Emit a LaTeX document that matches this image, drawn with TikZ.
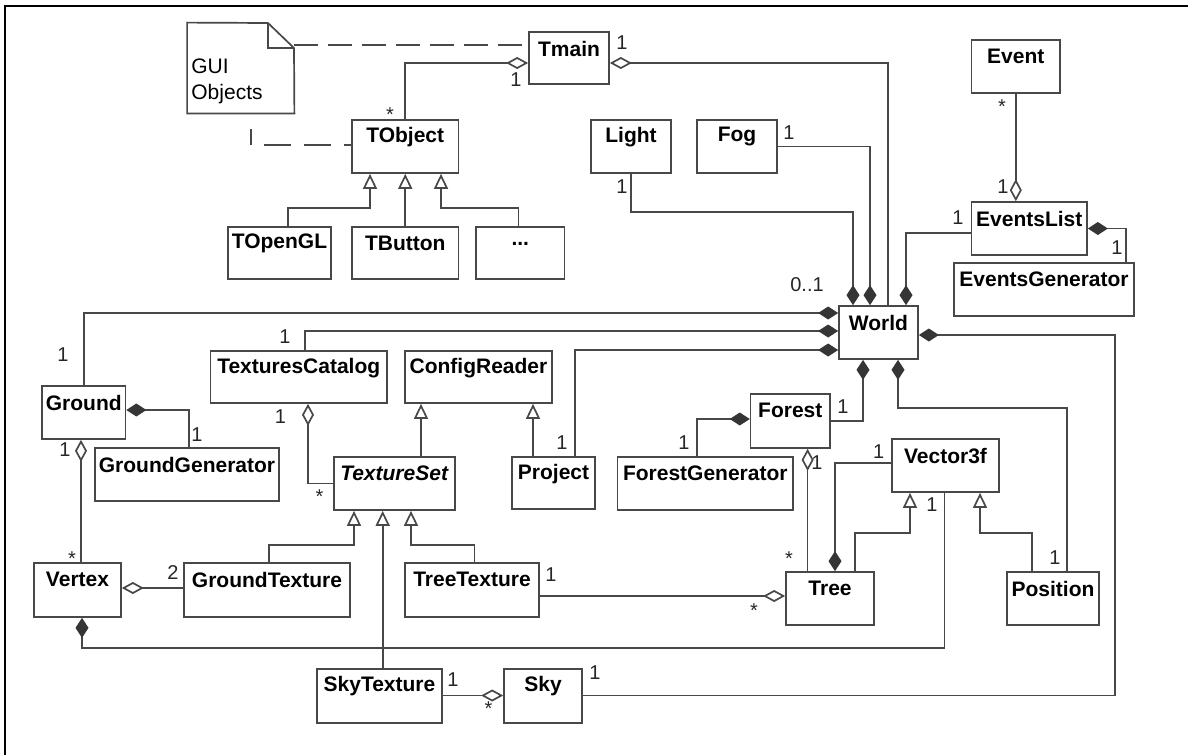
\documentclass[tikz,border=0pt]{standalone}
\usepackage{fontspec}
\setmainfont{Liberation Sans}
\usetikzlibrary{arrows.meta,fit,calc}
\definecolor{ln}{HTML}{484848}
\definecolor{dm}{HTML}{353535}
\tikzset{
  cls/.style={draw=ln, line width=0.85pt, fill=white, inner sep=0pt, rectangle},
  cname/.style={font=\fontsize{10.5}{12}\selectfont\bfseries, text=black, inner sep=0pt},
  mult/.style={font=\fontsize{10}{12}\selectfont, text=black!85, inner sep=0pt},
  conn/.style={draw=ln, line width=0.85pt},
  dashconn/.style={conn, dash pattern=on 12pt off 5pt},
  tickdash/.style={conn, dash pattern=on 8pt off 6.5pt on 13.5pt off 6.5pt on 13.5pt off 6.5pt on 13.5pt off 6.5pt},
  fdS/.style={arrows={Diamond[length=10pt,width=6.5pt,color=dm]-}},
  fdE/.style={arrows={-Diamond[length=10pt,width=6.5pt,color=dm]}},
  odS/.style={arrows={Diamond[open,length=11pt,width=6pt]-}},
  odE/.style={arrows={-Diamond[open,length=11pt,width=6pt]}},
  inhE/.style={arrows={-Triangle[open,length=7.5pt,width=7pt]}},
}
\newcommand\umlbox[6]{%
  \node[cls, fit={(#2,#3) (#4,#5)}] (#1) {};
  \node[cname] (#1-t) at ($(#1.north)+(0,17.5)$) {#6};
}
\begin{document}
\begin{tikzpicture}[x=0.5pt,y=-0.5pt]
\useasboundingbox (0,0) rectangle (1188,755);
% frame (top and left only)
\draw[line width=1pt,black] (5,755) -- (5,6) -- (1188,6);

% note
\node[inner sep=0pt, fit={(187.5,23) (294,113)}] (note) {};
\draw[conn,fill=white] (note.south west) -- (note.north west) -- (268,23) -- (294,48) -- (note.south east) -- cycle;
\draw[conn] (268,23) -- (268,48) -- (294,48);
\node[anchor=west, align=left, inner sep=0pt, font=\fontsize{10.5}{13}\selectfont] (notetext) at (191,81) {GUI\\Objects};

% classes
\umlbox{tmain}{529}{32}{609}{84}{Tmain}
\umlbox{tobject}{352}{120}{458.5}{173}{TObject}
\umlbox{topengl}{228}{227}{331}{279}{TOpenGL}
\umlbox{tbutton}{352}{227}{458.5}{279}{TButton}
\umlbox{dots}{476}{227}{564.5}{279}{...}
\umlbox{light}{591}{120}{671}{173}{Light}
\umlbox{fog}{697}{120}{777}{173}{Fog}
\umlbox{event}{971.6}{40}{1060}{93}{Event}
\umlbox{eventslist}{971.6}{202}{1087}{255}{EventsList}
\umlbox{eventsgen}{954}{263}{1134}{316}{EventsGenerator}
\umlbox{world}{839}{306}{918}{359}{World}
\umlbox{ground}{42}{386}{125.5}{439}{Ground}
\umlbox{groundgen}{95}{448}{279}{501}{GroundGenerator}
\umlbox{texcat}{210.5}{351}{387}{403}{TexturesCatalog}
\umlbox{config}{405}{351}{552}{403}{ConfigReader}
\umlbox{texset}{334}{457}{455}{510}{\textit{TextureSet}}
\umlbox{project}{512}{457}{595}{509}{Project}
\umlbox{forest}{750.6}{394}{830}{448}{Forest}
\umlbox{forestgen}{617.6}{457}{793}{510}{ForestGenerator}
\umlbox{vector}{892}{439}{999}{492}{Vector3f}
\umlbox{vertex}{34}{563}{121}{617}{Vertex}
\umlbox{groundtex}{184}{563}{350}{617}{GroundTexture}
\umlbox{treetex}{405}{563}{539}{617}{TreeTexture}
\umlbox{tree}{786}{572}{874}{625}{Tree}
\umlbox{position}{1007}{572}{1099}{625}{Position}
\umlbox{skytex}{317}{669}{442}{723}{SkyTexture}
\umlbox{sky}{504}{669}{582}{723}{Sky}

% dashed note links
\coordinate (tick) at (251,129);
\draw[dashconn] (note.east |- 0,45) -- (tmain.west |- 0,45);
\draw[tickdash] (tick) -- (251,145) -- (tobject.west |- 0,145);

% connectors
\draw[conn,odS] (tmain.west |- 0,63) -| (tobject.north);
\draw[conn,inhE] (topengl.north -| 288,0) |- (370,208) -- (tobject.south -| 370,0);
\draw[conn,inhE] (tbutton.north) -- (tobject.south);
\draw[conn,inhE] (dots.north -| 518.5,0) |- (441,208) -- (tobject.south -| 441,0);
\draw[conn,odS] (tmain.east |- 0,63) -| (world.north -| 888,0);
\draw[conn,fdE] (light.south) |- (853,212) -- (world.north -| 853,0);
\draw[conn,fdE] (fog.east) -| (world.north -| 870,0);
\draw[conn,fdE] (eventslist.west |- 0,233) -| (world.north -| 906,0);
\draw[conn,odE] (event.south) -- (eventslist.north -| event.south);
\draw[conn,fdS] (eventslist.east) -| (eventsgen.north -| 1126,0);
\draw[conn,fdE] (ground.north) |- (world.west |- 0,313);
\draw[conn,fdE] (texcat.north -| 305,0) |- (world.west |- 0,331);
\draw[conn,fdE] (project.north -| 575,0) |- (world.west |- 0,350);
\draw[conn,fdS] (world.east |- 0,335) -| (1115,695.5) -- (sky.east |- 0,695.5);
\draw[conn,fdS] (world.south -| 863,0) |- (forest.east);
\draw[conn,fdS] (world.south -| 898,0) |- (1067,408) -- (position.north -| 1067,0);
\draw[conn,fdS] (forest.west |- 0,419) -| (forestgen.north -| 697,0);
\draw[conn,odS] (forest.south -| 807.6,0) -- (tree.north -| 807.6,0);
\draw[conn,fdE] (vector.west |- 0,463) -| (tree.north -| 835,0);
\draw[conn,inhE] (tree.north -| 855,0) |- (910,533) -- (vector.south -| 910,0);
\draw[conn,inhE] (position.north -| 1032,0) |- (980,533) -- (vector.south -| 980,0);
\draw[conn,fdE] (vector.south -| 944.5,0) |- (82,647.7) -- (vertex.south -| 82,0);
\draw[conn,fdS] (ground.east |- 0,410) -| (groundgen.north -| 188.7,0);
\draw[conn,odS] (ground.south -| 81,0) -- (vertex.north -| 81,0);
\draw[conn,odS] (texcat.south -| 308,0) |- (texset.west);
\draw[conn,inhE] (texset.north -| 421,0) -- (config.south -| 421,0);
\draw[conn,inhE] (project.north -| 533,0) -- (config.south -| 533,0);
\draw[conn,inhE] (groundtex.north -| 269,0) |- (354,545) -- (texset.south -| 354,0);
\draw[conn,inhE] (skytex.north -| 382.7,0) -- (texset.south -| 382.7,0);
\draw[conn,inhE] (treetex.north -| 474.6,0) |- (411,545) -- (texset.south -| 411,0);
\draw[conn,odS] (vertex.east |- 0,588) -- (groundtex.west |- 0,588);
\draw[conn,odE] (treetex.east |- 0,596) -- (tree.west |- 0,596);
\draw[conn,odE] (skytex.east |- 0,695.5) -- (sky.west |- 0,695.5);

% multiplicities
\node[mult] (m1) at (516,80) {1};
\node[mult] (m2) at (390,115) {*};
\node[mult] (m3) at (622,43) {1};
\node[mult] (m4) at (807,285) {0..1};
\node[mult] (m5) at (622,187) {1};
\node[mult] (m6) at (789,133) {1};
\node[mult] (m7) at (958,218) {1};
\node[mult] (m8) at (1002,107) {*};
\node[mult] (m9) at (1003,187) {1};
\node[mult] (m10) at (1117,248) {1};
\node[mult] (m11) at (63,355) {1};
\node[mult] (m12) at (285,337) {1};
\node[mult] (m13) at (562,443) {1};
\node[mult] (m14) at (595,673) {1};
\node[mult] (m15) at (843,407) {1};
\node[mult] (m16) at (1055,558) {1};
\node[mult] (m17) at (684,443) {1};
\node[mult] (m18) at (817,463) {1};
\node[mult] (m19) at (789,559) {*};
\node[mult] (m20) at (878.6,452) {1};
\node[mult] (m21) at (932,505) {1};
\node[mult] (m22) at (197,435) {1};
\node[mult] (m23) at (65,450) {1};
\node[mult] (m24) at (72,559) {*};
\node[mult] (m25) at (280.5,417) {1};
\node[mult] (m26) at (319.6,497) {*};
\node[mult] (m27) at (173,573) {2};
\node[mult] (m28) at (551,575) {1};
\node[mult] (m29) at (754,611) {*};
\node[mult] (m30) at (453,680) {1};
\node[mult] (m31) at (488.6,709) {*};
\end{tikzpicture}
\end{document}
